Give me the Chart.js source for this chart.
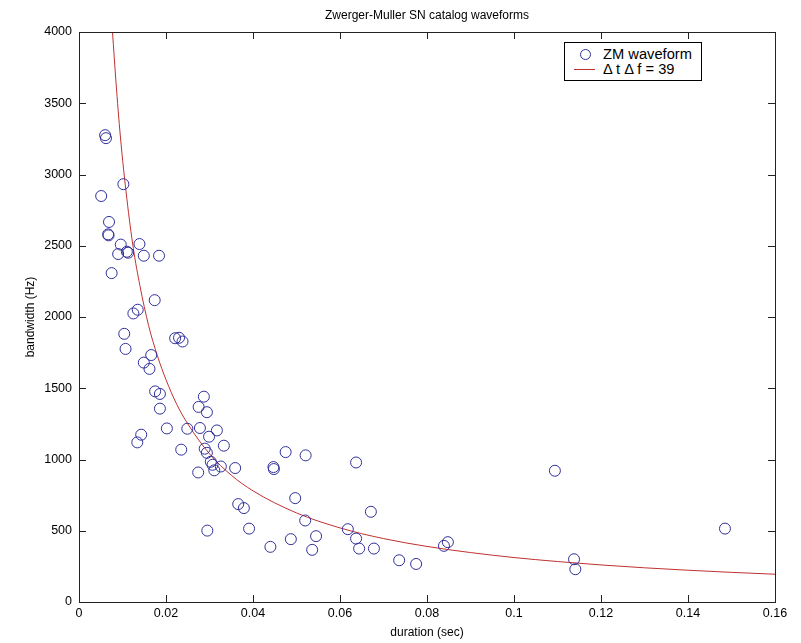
<!DOCTYPE html>
<html>
<head>
<meta charset="utf-8">
<script src="https://cdn.jsdelivr.net/npm/chart.js@4"></script>
<style>
  body { margin: 0; background: #fff; }
  #wrap { position: relative; width: 801px; height: 643px; }
  #legend {
    position: absolute; left: 564px; top: 42px; width: 136px; height: 37px;
    border: 1px solid #000; background: #fff;
    font-family: "Liberation Sans", Arial, sans-serif; font-size: 14.7px; color: #000;
  }
  .row { position: absolute; left: 0; height: 16px; line-height: 16px; }
  .row span.txt { position: absolute; left: 38px; white-space: nowrap; }
  .mk-circle { position: absolute; left: 15px; top: 3px; width: 9px; height: 9px; border: 1px solid #30309a; border-radius: 50%; }
  .mk-line { position: absolute; left: 9px; top: 8px; width: 21px; border-top: 1px solid #c03030; }
</style>
</head>
<body>
<div id="wrap">
  <canvas id="myChart" width="801" height="643"></canvas>
  <div id="legend"></div>
</div>
<script>
// ZM waveform catalog: duration (sec) vs bandwidth (Hz)
const duration = [
  0.0060, 0.0062, 0.0102, 0.0051, 0.0069, 0.0067, 0.0068, 0.0096, 0.0139, 0.0090,
  0.0110, 0.0113, 0.0149, 0.0184, 0.0075, 0.0174, 0.0125, 0.0135, 0.0104, 0.0107,
  0.0221, 0.0230, 0.0238, 0.0166, 0.0149, 0.0162, 0.0175, 0.0186, 0.0186, 0.0287,
  0.0275, 0.0294, 0.0143, 0.0134, 0.0202, 0.0249, 0.0278, 0.0299, 0.0235, 0.0289,
  0.0294, 0.0303, 0.0307, 0.0311, 0.0274, 0.0317, 0.0333, 0.0326, 0.0359, 0.0447,
  0.0448, 0.0475, 0.0521, 0.0637, 0.0366, 0.0379, 0.0497, 0.0295, 0.0391, 0.0520,
  0.0671, 0.0487, 0.0545, 0.0440, 0.0536, 0.0618, 0.0637, 0.0644, 0.0678, 0.0736,
  0.0775, 0.0839, 0.0848, 0.1094, 0.1138, 0.1141, 0.1485
]
const bandwidth = [
  3276, 3255, 2932, 2849, 2667, 2580, 2573, 2508, 2512, 2442,
  2458, 2451, 2430, 2430, 2308, 2118, 2025, 2051, 1882, 1776,
  1851, 1854, 1828, 1733, 1680, 1636, 1478, 1460, 1357, 1441,
  1369, 1332, 1174, 1120, 1218, 1216, 1221, 1160, 1069, 1076,
  1047, 984, 963, 924, 909, 1204, 1097, 951, 940, 947,
  933, 1052, 1029, 979, 687, 659, 729, 501, 515, 572,
  633, 441, 462, 387, 366, 511, 445, 375, 375, 293,
  267, 394, 420, 921, 300, 230, 515
]
// red reference curve (delta t * delta f = 39)
const curveX = [0.0077, 0.0085, 0.0095, 0.011, 0.0125, 0.014, 0.016, 0.018, 0.02, 0.0225,
  0.025, 0.03, 0.035, 0.04, 0.05, 0.06, 0.07, 0.08, 0.09, 0.1, 0.11, 0.12, 0.13, 0.14, 0.15, 0.16]
const curveY = [4000, 3650, 3270, 2830, 2480, 2220, 1940, 1730, 1560, 1385,
  1250, 1040, 890, 780, 625, 520, 445, 390, 347, 312, 284, 260, 240, 223, 208, 195]

const xTicks = [0, 0.02, 0.04, 0.06, 0.08, 0.1, 0.12, 0.14, 0.16]
const yTicks = [0, 500, 1000, 1500, 2000, 2500, 3000, 3500, 4000]

const font = "'Liberation Sans', Arial, sans-serif"

// MATLAB style box with inward ticks on every side
const boxTicks = {
  id: 'boxTicks',
  afterDraw(chart) {
    const ctx = chart.ctx
    const a = chart.chartArea
    const xs = chart.scales.x, ys = chart.scales.y
    ctx.save()
    ctx.strokeStyle = '#222'
    ctx.lineWidth = 1
    ctx.strokeRect(Math.round(a.left) + 0.5, Math.round(a.top) + 0.5, Math.round(a.right - a.left), Math.round(a.bottom - a.top))
    ctx.beginPath()
    xTicks.forEach(v => {
      const px = Math.round(xs.getPixelForValue(v)) + 0.5
      ctx.moveTo(px, a.bottom); ctx.lineTo(px, a.bottom - 7)
      ctx.moveTo(px, a.top); ctx.lineTo(px, a.top + 7)
    })
    yTicks.forEach(v => {
      const py = Math.round(ys.getPixelForValue(v)) + 0.5
      ctx.moveTo(a.left, py); ctx.lineTo(a.left + 7, py)
      ctx.moveTo(a.right, py); ctx.lineTo(a.right - 7, py)
    })
    ctx.stroke()
    ctx.restore()
  }
}

const ctx = document.getElementById('myChart')
const myChart = new Chart(ctx, {
  type: 'scatter',
  data: {
    datasets: [{
      label: 'ZM waveform',
      data: duration.map((d, i) => ({ x: d, y: bandwidth[i] })),
      pointStyle: 'circle',
      pointRadius: 5.5,
      borderWidth: 1,
      borderColor: '#30309a',
      backgroundColor: 'rgba(0,0,0,0)',
      order: 1
    }, {
      label: '\u0394 t \u0394 f = 39',
      type: 'line',
      data: curveX.map((d, i) => ({ x: d, y: curveY[i] })),
      borderColor: '#c03030',
      borderWidth: 1,
      pointRadius: 0,
      fill: false,
      cubicInterpolationMode: 'monotone',
      order: 2
    }]
  },
  options: {
    responsive: false,
    animation: false,
    layout: { padding: { left: 0, right: 26, top: 0, bottom: 0 } },
    plugins: {
      legend: { display: false },
      tooltip: { enabled: false },
      title: {
        display: true,
        text: 'Zwerger-Muller SN catalog waveforms',
        fullSize: false,
        color: '#000',
        font: { family: font, size: 12, weight: 'normal' },
        padding: { top: 8, bottom: 9.6 }
      }
    },
    scales: {
      x: {
        type: 'linear', min: 0, max: 0.16,
        afterFit: s => { s.height = 41 },
        afterBuildTicks: s => { s.ticks = xTicks.map(v => ({ value: v })) },
        grid: { drawOnChartArea: false, drawTicks: false },
        border: { display: false },
        ticks: { color: '#000', padding: 4, maxRotation: 0, font: { family: font, size: 12.5 }, callback: v => String(v) },
        title: { display: true, text: 'duration (sec)', color: '#000', padding: 3, font: { family: font, size: 12 } }
      },
      y: {
        type: 'linear', min: 0, max: 4000,
        afterFit: s => { s.width = 79 },
        afterBuildTicks: s => { s.ticks = yTicks.map(v => ({ value: v })) },
        grid: { drawOnChartArea: false, drawTicks: false },
        border: { display: false },
        ticks: { color: '#000', padding: 7, font: { family: font, size: 12.5 }, callback: v => String(v) },
        title: { display: true, text: 'bandwidth (Hz)', color: '#000', padding: 23, font: { family: font, size: 12 } }
      }
    }
  },
  plugins: [boxTicks]
})

// legend box in the upper right, built from the datasets
const legend = document.getElementById('legend')
myChart.data.datasets.forEach((ds, i) => {
  const row = document.createElement('div')
  row.className = 'row'
  row.style.top = (3 + i * 15) + 'px'
  row.style.width = '100%'
  const mk = document.createElement('span')
  mk.className = i === 0 ? 'mk-circle' : 'mk-line'
  const txt = document.createElement('span')
  txt.className = 'txt'
  txt.textContent = ds.label
  row.appendChild(mk)
  row.appendChild(txt)
  legend.appendChild(row)
})
</script>
</body>
</html>
